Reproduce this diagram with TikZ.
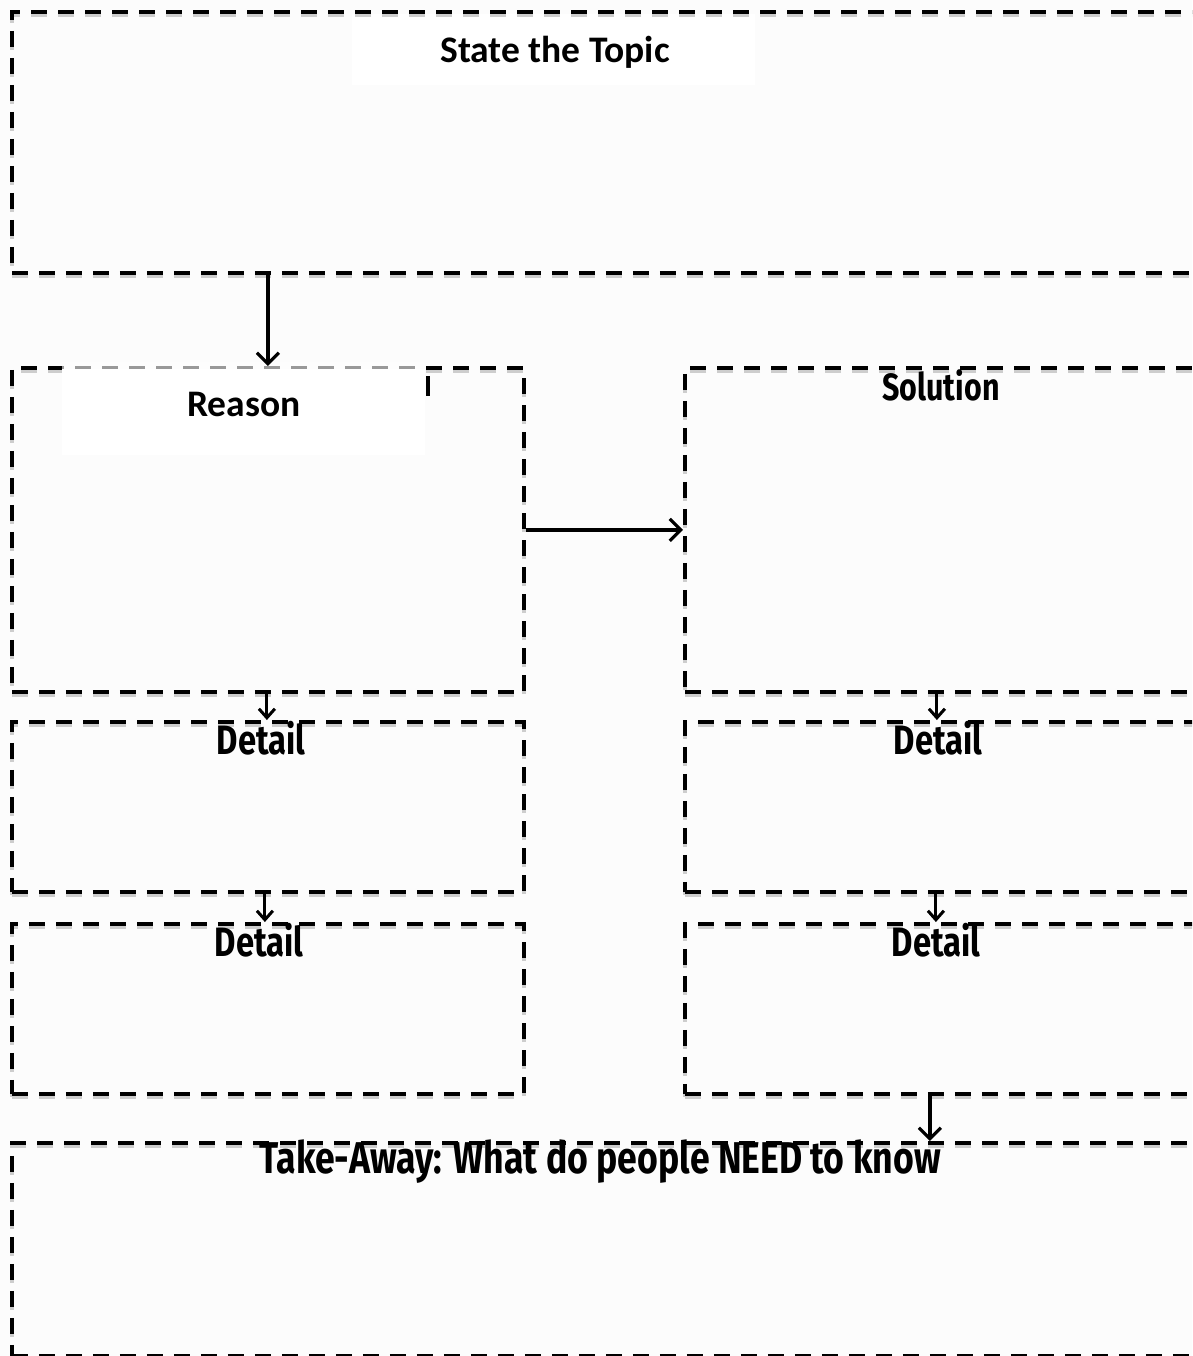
\documentclass[tikz,border=0pt]{standalone}
\usepackage{fontspec}
\setmainfont{Carlito}
\newfontfamily\hand[FakeStretch=0.8]{Fira Sans}
\usetikzlibrary{arrows.meta,calc}
\definecolor{bgc}{RGB}{252,252,252}
\definecolor{shadowc}{RGB}{205,205,205}
\begin{document}
\begin{tikzpicture}[x=1pt,y=-1pt,
  box/.style={draw, dash pattern=on 16pt off 11pt, line width=3.8pt, inner sep=0pt, anchor=north west},
  shbox/.style={box, draw=shadowc, line width=4.2pt},
  conn/.style={line width=3.2pt, -{Straight Barb[length=11pt,width=22pt,line width=3.2pt]}},
  sconn/.style={line width=3pt, -{Straight Barb[length=9pt,width=16pt,line width=3pt]}},
  titletext/.style={font=\bfseries\fontsize{37.5}{37.5}\selectfont, inner sep=0pt},
  handtext/.style={font=\hand\bfseries\fontsize{41}{41}\selectfont, inner sep=0pt}
]
\useasboundingbox (0,0) rectangle (1192,1356);
\fill[bgc] (0,0) rectangle (1192,1356);
\clip (0,0) rectangle (1192,1356);

% white patch behind the title
\fill[white] (352,14) rectangle (755,85);

% shadows of boxes
\foreach \x/\y/\w/\h in {10/13/1183/261, 10/369/512/324, 683/369/510/324, 10/723/512/170, 10/925/512/170, 683/723/510/170, 683/925/510/170, 10/1144/1183/213}
  \node[shbox, minimum width=\w pt, minimum height=\h pt] at (\x,\y) {};

% boxes
\node[box, minimum width=1183pt, minimum height=261pt] (topic) at (10,10) {};
\node[box, minimum width=512pt, minimum height=324pt] (reason) at (10,366) {};
\node[box, minimum width=510pt, minimum height=324pt] (solution) at (683,366) {};
\node[box, minimum width=512pt, minimum height=170pt] (detL1) at (10,720) {};
\node[box, minimum width=512pt, minimum height=170pt] (detL2) at (10,922) {};
\node[box, minimum width=510pt, minimum height=170pt] (detR1) at (683,720) {};
\node[box, minimum width=510pt, minimum height=170pt] (detR2) at (683,922) {};
\node[box, minimum width=1183pt, minimum height=213pt] (take) at (10,1141) {};

% white patch over the reason heading
\fill[white, opacity=0.6] (62,362) rectangle (425,455);
\fill[white] (62,369) rectangle (425,455);
\fill[black] (425.5,376) rectangle (429.5,396);

% texts
\node[titletext] (ttopic) at (555,52) {State the Topic};
\node[titletext] (treason) at (244,404) {Reason};
\node[handtext, font=\hand\bfseries\fontsize{38}{38}\selectfont] (tsol) at (941,385) {Solution};
\node[handtext] (tdL1) at (261,738) {Detail};
\node[handtext] (tdL2) at (259,940) {Detail};
\node[handtext] (tdR1) at (938,738) {Detail};
\node[handtext] (tdR2) at (936,940) {Detail};
\node[handtext, font=\hand\bfseries\fontsize{44.5}{44.5}\selectfont] (ttake) at (600,1162) {Take-Away: What do people NEED to know};

% connectors
\draw[conn] (topic.south -| reason.north) -- (reason.north);
\draw[conn] (reason.east) -- (solution.west);
\draw[sconn] ([xshift=-1pt]reason.south) -- ([xshift=-1pt]detL1.north);
\draw[sconn] ([xshift=-3pt]detL1.south) -- ([xshift=-3pt]detL2.north);
\draw[sconn] ([xshift=-3pt]solution.south) -- ([xshift=-3pt]detR1.north);
\draw[sconn] ([xshift=-4pt]detR1.south) -- ([xshift=-4pt]detR2.north);
\draw[conn] ([xshift=-10pt]detR2.south) -- ([xshift=-10pt]detR2.south |- take.north);
\end{tikzpicture}
\end{document}
